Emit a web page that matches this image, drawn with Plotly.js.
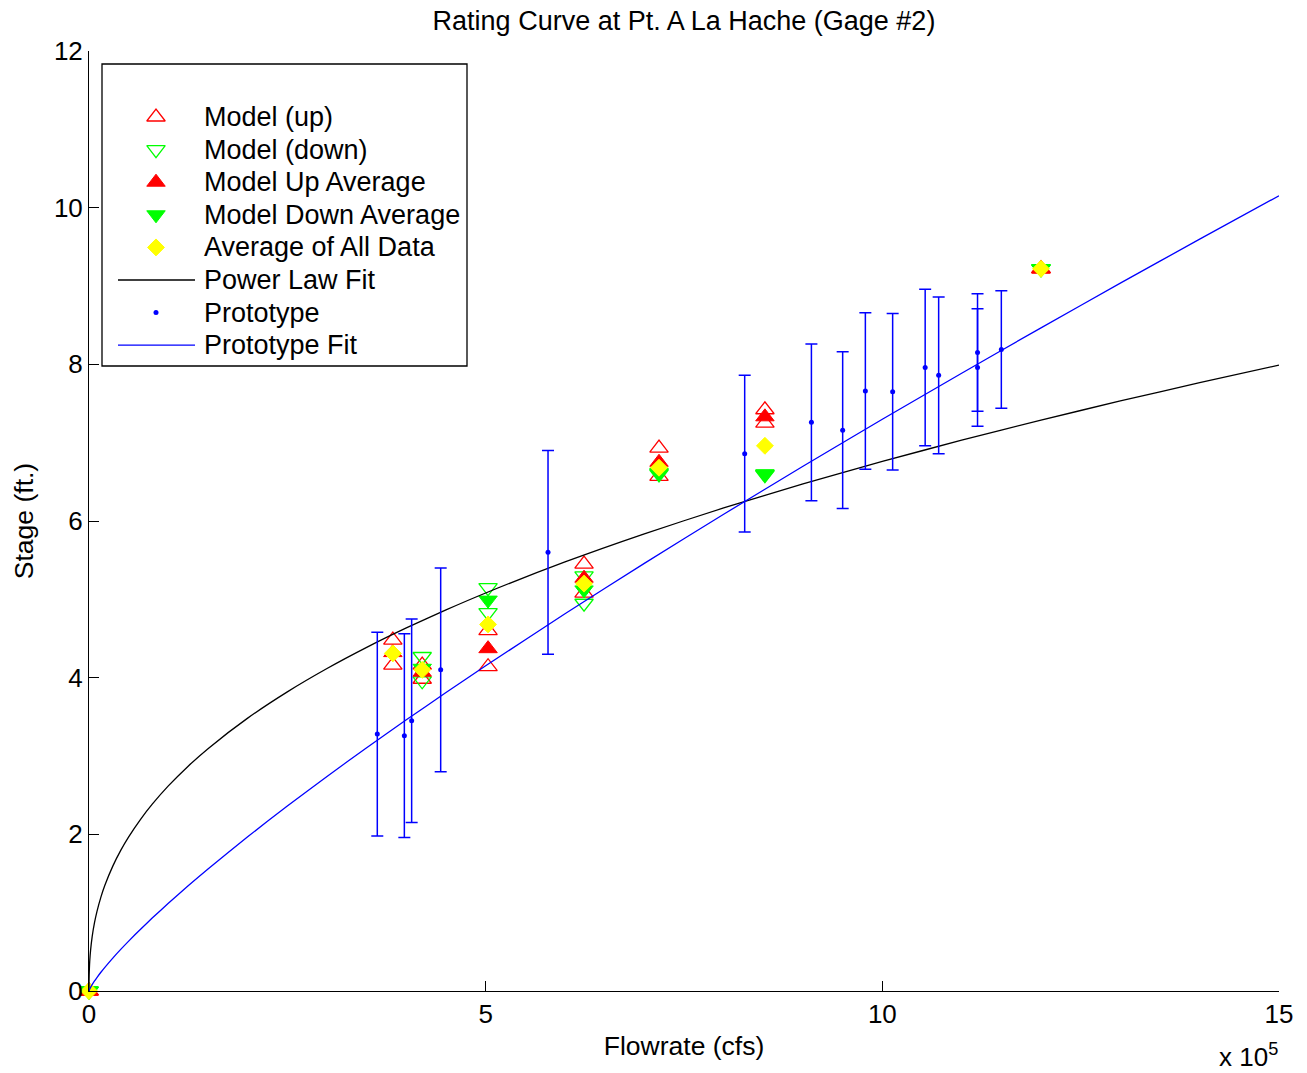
<!DOCTYPE html>
<html>
<head>
<meta charset="utf-8">
<script src="https://cdn.plot.ly/plotly-3.0.1.min.js"></script>
<style>html,body{margin:0;padding:0;background:#fff;}#chart{width:1307px;height:1073px;}</style>
</head>
<body>
<div id="chart"></div>
<script>
// ---- Data (flow in units of 10^5 cfs, stage in ft) ----
const modelFlow   = [0, 3.83, 4.20, 5.03, 6.24, 7.185, 8.52, 12.0];
const modelUpA    = [0, 4.48, 4.16, 4.60, 5.45, 6.93, 7.42, 9.22];
const modelUpB    = [0, 4.16, 3.98, 4.14, 5.08, 6.57, 7.25, 9.22];
const modelDownA  = [0, null, 4.27, 5.15, 5.30, 6.62, 6.60, 9.22];
const modelDownB  = [0, null, 3.96, 4.83, 4.95, 6.60, 6.59, 9.22];
const modelUpAvg   = [0, 4.32, 4.07, 4.37, 5.27, 6.75, 7.33, 9.22];
const modelDownAvg = [0, null, 4.12, 4.99, 5.12, 6.61, 6.60, 9.22];
const allDataAvg   = [0, 4.31, 4.10, 4.68, 5.20, 6.68, 6.96, 9.22];

const protoFlow  = [3.634, 3.975, 4.067, 4.433, 5.786, 8.265, 9.106, 9.50, 9.786, 10.13, 10.54, 10.71, 11.20, 11.20, 11.50];
const protoStage = [3.28, 3.26, 3.45, 4.10, 5.60, 6.86, 7.26, 7.16, 7.66, 7.65, 7.96, 7.86, 8.15, 7.96, 8.19];
const protoErr   = [1.3, 1.3, 1.3, 1.3, 1.3, 1.0, 1.0, 1.0, 1.0, 1.0, 1.0, 1.0, 0.75, 0.75, 0.75];

// fitted curves: stage = coef * flow^expo (coefficients)
const powerLawCoef = 2.618, powerLawExpo = 0.412;
const protoFitCoef = 1.120, protoFitExpo = 0.814;
const fitFlow = [0, 0.0005, 0.002, 0.005, 0.01, 0.02, 0.04, 0.07, 0.1, 0.15, 0.2, 0.3, 0.4, 0.5, 0.65, 0.8, 1, 1.25, 1.5, 2, 2.5, 3, 3.5, 4, 4.5, 5, 6, 7, 8, 9, 10, 11, 12, 13, 14, 15];

const xTicks = [0, 5, 10, 15];
const yTicks = [0, 2, 4, 6, 8, 10, 12];

const legendNames = ['Model (up)', 'Model (down)', 'Model Up Average', 'Model Down Average',
                     'Average of All Data', 'Power Law Fit', 'Prototype', 'Prototype Fit'];

const FONT = 'Liberation Sans, Arial, sans-serif';
const RED = 'rgb(255,0,0)', GREEN = 'rgb(0,255,0)', BLUE = 'rgb(0,0,255)', YEL = 'rgb(255,255,0)';

function pairX() { const xs = []; modelFlow.forEach(f => { xs.push(f, f); }); return xs; }
function pairY(a, b) { const ys = []; a.forEach((v, i) => { ys.push(v, b[i]); }); return ys; }

// styles shared by plot marks and legend samples
const styles = [
  {mode: 'markers', marker: {symbol: 'triangle-up-open', size: 16, color: RED, line: {width: 1.3, color: RED}}},
  {mode: 'markers', marker: {symbol: 'triangle-down-open', size: 16, color: GREEN, line: {width: 1.3, color: GREEN}}},
  {mode: 'markers', marker: {symbol: 'triangle-up', size: 16, color: RED, line: {width: 1, color: RED}}},
  {mode: 'markers', marker: {symbol: 'triangle-down', size: 16, color: GREEN, line: {width: 1, color: GREEN}}},
  {mode: 'markers', marker: {symbol: 'diamond', size: 13, color: YEL, line: {width: 1, color: YEL}}},
  {mode: 'lines', line: {color: 'black', width: 1.3}},
  {mode: 'markers', marker: {size: 5, color: BLUE}},
  {mode: 'lines', line: {color: BLUE, width: 1.3}}
];

const traces = [
  Object.assign({x: pairX(), y: pairY(modelUpA, modelUpB), name: legendNames[0], cliponaxis: false}, styles[0]),
  Object.assign({x: pairX(), y: pairY(modelDownA, modelDownB), name: legendNames[1], cliponaxis: false}, styles[1]),
  Object.assign({x: modelFlow, y: modelUpAvg, name: legendNames[2], cliponaxis: false}, styles[2]),
  Object.assign({x: modelFlow, y: modelDownAvg, name: legendNames[3], cliponaxis: false}, styles[3]),
  Object.assign({x: modelFlow, y: allDataAvg, name: legendNames[4], cliponaxis: false}, styles[4]),
  {x: fitFlow, y: fitFlow.map(q => powerLawCoef * Math.pow(q, powerLawExpo)), mode: 'lines', name: legendNames[5],
   line: {color: 'black', width: 1.3, shape: 'spline', smoothing: 0.6}},
  {x: protoFlow, y: protoStage, mode: 'markers', name: legendNames[6],
   marker: {size: 5, color: BLUE},
   error_y: {type: 'data', array: protoErr, visible: true, color: BLUE, thickness: 1.5, width: 6}},
  {x: fitFlow, y: fitFlow.map(q => protoFitCoef * Math.pow(q, protoFitExpo)), mode: 'lines', name: legendNames[7],
   line: {color: BLUE, width: 1.3, shape: 'spline', smoothing: 0.6}}
];
traces.forEach(t => { t.showlegend = false; });

// legend box drawn on a pixel-coordinate overlay axis pair
const LEG_TOP = 117, LEG_STEP = 32.6, LEG_SYM_X = 156, LEG_LINE = [118, 195], LEG_TEXT_X = 202;
const annotations = [];
legendNames.forEach((name, i) => {
  const yy = LEG_TOP + i * LEG_STEP;
  const st = styles[i];
  const t = Object.assign({xaxis: 'x2', yaxis: 'y2', showlegend: false, hoverinfo: 'skip', cliponaxis: false}, st);
  if (st.mode === 'lines') { t.x = LEG_LINE; t.y = [yy, yy]; } else { t.x = [LEG_SYM_X]; t.y = [yy]; }
  traces.push(t);
  annotations.push({xref: 'x2', yref: 'y2', x: LEG_TEXT_X, y: yy, text: name, showarrow: false,
                    xanchor: 'left', yanchor: 'middle', font: {family: FONT, size: 27, color: 'black'}});
});

annotations.push({xref: 'paper', yref: 'paper', x: (1248 - 89) / 1190, y: (991 - 1055) / 940,
                  text: 'x 10<sup>5</sup>', showarrow: false, xanchor: 'center', yanchor: 'middle',
                  font: {family: FONT, size: 26, color: 'black'}});

const axisCommon = {
  showline: true, linecolor: 'black', linewidth: 1, mirror: false,
  ticks: 'inside', ticklen: 10, tickcolor: 'black', tickwidth: 1,
  showgrid: false, zeroline: false, tickfont: {family: FONT, size: 26, color: 'black'}
};

const layout = {
  width: 1307, height: 1073,
  paper_bgcolor: 'white', plot_bgcolor: 'white',
  margin: {l: 89, r: 28, t: 51, b: 82},
  font: {family: FONT, size: 26, color: 'black'},
  showlegend: false,
  title: {text: 'Rating Curve at Pt. A La Hache (Gage #2)', font: {family: FONT, size: 27, color: 'black'},
          x: 0.5, xanchor: 'center', xref: 'paper', y: 1 - 21 / 1073, yanchor: 'middle'},
  xaxis: Object.assign({}, axisCommon, {range: [0, 15], tickvals: xTicks, ticktext: xTicks.map(String),
          title: {text: 'Flowrate (cfs)', font: {family: FONT, size: 26.5}, standoff: 8}}),
  yaxis: Object.assign({}, axisCommon, {range: [0, 12], tickvals: yTicks, ticktext: yTicks.map(String),
          title: {text: 'Stage (ft.)', font: {family: FONT, size: 26.5}, standoff: 12}}),
  xaxis2: {overlaying: 'x', anchor: 'y2', range: [89, 1279], visible: false, fixedrange: true},
  yaxis2: {overlaying: 'y', anchor: 'x2', range: [991, 51], visible: false, fixedrange: true},
  shapes: [{type: 'rect', xref: 'paper', yref: 'paper', x0: (102 - 89) / 1190, x1: (467 - 89) / 1190,
            y0: (991 - 366) / 940, y1: (991 - 64) / 940, line: {color: 'black', width: 1.3},
            fillcolor: 'white', layer: 'below'}],
  annotations: annotations
};

Plotly.newPlot('chart', traces, layout, {staticPlot: true});
</script>
</body>
</html>
